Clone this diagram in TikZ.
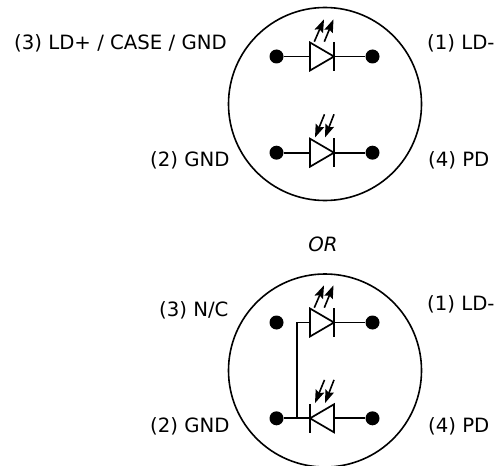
\documentclass[tikz,border=0pt]{standalone}
\usepackage{fontspec}
\setmainfont{DejaVu Sans}
\usetikzlibrary{arrows.meta}
\tikzset{
  pin/.style={circle,fill=black,draw=none,minimum size=14pt,inner sep=0pt},
  lbl/.style={inner sep=0pt,font=\fontsize{19.7pt}{23pt}\selectfont,text=black},
  wire/.style={line width=1.7pt,line cap=butt},
  ring/.style={circle,draw=black,line width=1.6pt,minimum size=193pt,inner sep=0pt},
  ray/.style={line width=1.6pt,-{Stealth[length=13pt,width=9pt,inset=2pt]}}
}
\newcommand{\diodeR}[2]{% anode-left at x=310, bar at x=334, y=#1, name #2
  \coordinate (#2a) at (310,#1);
  \coordinate (#2c) at (334,#1);
  \draw[wire,line join=miter] (310,#1-14) -- (334,#1) -- (310,#1+14) -- cycle;
  \draw[wire] (334,#1-14.5) -- (334,#1+14.5);
}
\newcommand{\emit}[1]{%
  \draw[ray] (314.3,#1-14.8) -- (324,#1-37.2);
  \draw[ray] (324.3,#1-14.8) -- (333.5,#1-37.2);
}
\newcommand{\recv}[1]{%
  \draw[ray] (324.5,#1-38.4) -- (315,#1-15.2);
  \draw[ray] (334,#1-38.4) -- (325,#1-15.2);
}
\begin{document}
\begin{tikzpicture}[x=1pt,y=-1pt]
\useasboundingbox (0,0) rectangle (497,465);
% upper ring
\node[ring] (ringA) at (325,104) {};
\node[pin] (p1) at (276.5,56.5) {};
\node[pin] (p2) at (372.5,56.5) {};
\node[pin] (p3) at (276.5,152.7) {};
\node[pin] (p4) at (372.5,152.7) {};
\diodeR{56.5}{da}
\emit{56.5}
\draw[wire] (p1) -- (daa);
\draw[wire] (dac) -- (p2);
\diodeR{152.7}{db}
\recv{152.7}
\draw[wire] (p3) -- (dba);
\draw[wire] (dbc) -- (p4);
% lower ring
\node[ring] (ringB) at (325,370.5) {};
\node[pin] (q1) at (276.5,322.5) {};
\node[pin] (q2) at (372.5,322.5) {};
\node[pin] (q3) at (276.5,418.3) {};
\node[pin] (q4) at (372.5,418.3) {};
\diodeR{322.5}{dc}
\emit{322.5}
\draw[wire] (dcc) -- (q2);
\draw[wire] (dca) -- (297,322.5) -- (297,418.3);
% reversed lower diode
\coordinate (dda) at (310,418.3);
\coordinate (ddc) at (334,418.3);
\draw[wire,line join=miter] (334,404.3) -- (310,418.3) -- (334,432.3) -- cycle;
\draw[wire] (310,403.8) -- (310,432.8);
\recv{418.3}
\draw[wire] (q3) -- (dda);
\draw[wire] (ddc) -- (q4);
% labels
\node[lbl,anchor=base west] (t1) at (14,50) {(3) LD+ / CASE / GND};
\node[lbl,anchor=base west] (t2) at (427,50) {(1) LD-};
\node[lbl,anchor=base west] (t3) at (150,167) {(2) GND};
\node[lbl,anchor=base west] (t4) at (428,167) {(4) PD};
\node[lbl,anchor=base,font=\fontsize{19.7pt}{23pt}\selectfont\itshape] (t5) at (323,251) {OR};
\node[lbl,anchor=base west] (t6) at (159,316) {(3) N/C};
\node[lbl,anchor=base west] (t7) at (427,310) {(1) LD-};
\node[lbl,anchor=base west] (t8) at (150,432) {(2) GND};
\node[lbl,anchor=base west] (t9) at (428,432) {(4) PD};
\end{tikzpicture}
\end{document}
